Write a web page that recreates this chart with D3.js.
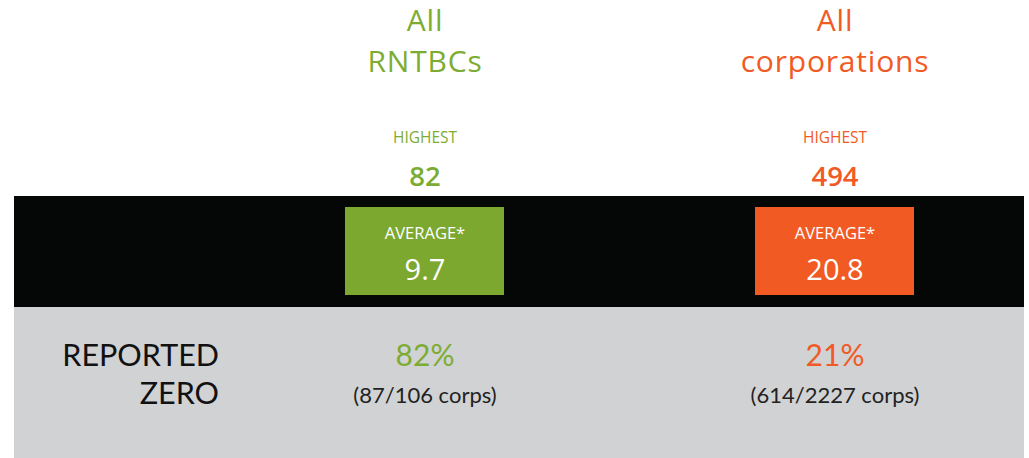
<!DOCTYPE html>
<html><head><meta charset="utf-8">
<script src="https://cdn.jsdelivr.net/npm/d3@7"></script>
<style>html,body{margin:0;padding:0;background:#fff;}svg{display:block;}</style>
</head><body>
<svg id="chart" width="1029" height="458"></svg>
<script>
const groupLines = [["All", "RNTBCs"], ["All", "corporations"]];
const groupKeys = ["rntbc", "corp"];
const highestLabel = "HIGHEST";
const highest = [82, 494];
const averageLabel = "AVERAGE*";
const average = [9.7, 20.8];
const zeroLabel = ["REPORTED", "ZERO"];
const zeroPct = [82, 21];
const zeroCount = [87, 614];
const zeroTotal = [106, 2227];
const colors = ["#7dac32", "#f15a24"];
const boxColors = ["#7ca82f", "#f15a22"];

const W = 1029, H = 458;
const svg = d3.select("#chart");
const x = d3.scalePoint().domain(groupKeys).range([425, 835]);
const color = d3.scaleOrdinal().domain(groupKeys).range(colors);
const boxColor = d3.scaleOrdinal().domain(groupKeys).range(boxColors);

// bands
svg.append("rect").attr("x", 14).attr("y", 196).attr("width", 1010).attr("height", 111).attr("fill", "#050606");
svg.append("rect").attr("x", 14).attr("y", 307).attr("width", 1010).attr("height", 151).attr("fill", "#d1d2d4");

const font = "'Open Sans', sans-serif";
const g = svg.selectAll("g.col").data(groupKeys).join("g").attr("class", "col")
  .attr("transform", d => `translate(${x(d)},0)`);

g.each(function(d, i) {
  const sel = d3.select(this);
  groupLines[i].forEach((line, j) => {
    sel.append("text").attr("x", 0).attr("y", 30.5 + j * 41.5)
      .attr("text-anchor", "middle").attr("font-family", font).attr("font-size", 30)
      .attr("letter-spacing", 0.8).attr("fill", color(d)).text(line);
  });
  sel.append("text").attr("x", 0).attr("y", 143).attr("text-anchor", "middle")
    .attr("font-family", font).attr("font-size", 15.5).attr("fill", color(d)).text(highestLabel);
  sel.append("text").attr("x", 0).attr("y", 186).attr("text-anchor", "middle")
    .attr("font-family", font).attr("font-size", 27.5).attr("font-weight", 600)
    .attr("fill", color(d)).text(highest[i]);
  sel.append("rect").attr("x", -80).attr("y", 207).attr("width", 159).attr("height", 88)
    .attr("fill", boxColor(d));
  sel.append("text").attr("x", 0).attr("y", 239).attr("text-anchor", "middle")
    .attr("font-family", font).attr("font-size", 16.5).attr("fill", "#fff").text(averageLabel);
  sel.append("text").attr("x", 0).attr("y", 280).attr("text-anchor", "middle")
    .attr("font-family", font).attr("font-size", 29).attr("fill", "#fff").text(d3.format(".1f")(average[i]));
  sel.append("text").attr("x", 0).attr("y", 366).attr("text-anchor", "middle")
    .attr("font-family", "Lato, sans-serif").attr("font-size", 30).attr("fill", color(d)).text(zeroPct[i] + "%");
  sel.append("text").attr("x", 0).attr("y", 403).attr("text-anchor", "middle")
    .attr("font-family", "Lato, sans-serif").attr("font-size", 22).attr("fill", "#222").text(`(${zeroCount[i]}/${zeroTotal[i]} corps)`);
});

zeroLabel.forEach((t, j) => {
  svg.append("text").attr("x", 219).attr("y", 366 + j * 38).attr("text-anchor", "end")
    .attr("font-family", "Lato, sans-serif").attr("font-size", 30.5).attr("fill", "#111").text(t);
});
</script>
</body></html>
